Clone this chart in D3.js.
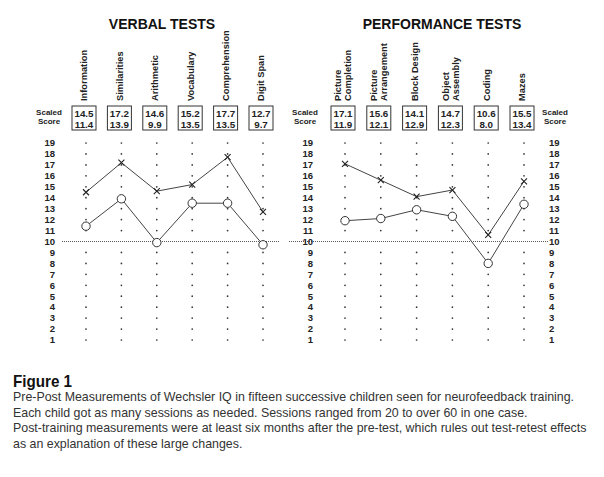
<!DOCTYPE html>
<html><head><meta charset="utf-8">
<script src="https://cdn.jsdelivr.net/npm/d3@7"></script>
<style>
body{margin:0;background:#fff;}
svg{display:block;font-family:"Liberation Sans",Arial,sans-serif;}
</style></head>
<body>
<svg id="c" width="604" height="477"></svg>
<script>
const verbalTests = [["Information"],["Similarities"],["Arithmetic"],["Vocabulary"],["Comprehension"],["Digit Span"]];
const verbalPost = [14.5, 17.2, 14.6, 15.2, 17.7, 12.7];
const verbalPre  = [11.4, 13.9, 9.9, 13.5, 13.5, 9.7];
const perfTests = [["Picture","Completion"],["Picture","Arrangement"],["Block Design"],["Object","Assembly"],["Coding"],["Mazes"]];
const perfPost = [17.1, 15.6, 14.1, 14.7, 10.6, 15.5];
const perfPre  = [11.9, 12.1, 12.9, 12.3, 8.0, 13.4];
const yTicks = d3.range(1, 20);
const captionTitle = "Figure 1";
const captionLines = [
 "Pre-Post Measurements of Wechsler IQ in fifteen successive children seen for neurofeedback training.",
 "Each child got as many sessions as needed. Sessions ranged from 20 to over 60 in one case.",
 "Post-training measurements were at least six months after the pre-test, which rules out test-retest effects",
 "as an explanation of these large changes."
];

const svg = d3.select("#c");
const ink = "#222";
const y = d3.scaleLinear().domain([1, 19]).range([340, 143]);

function tickCol(x, anchor){
  svg.append("g").selectAll("text").data(yTicks).join("text")
    .attr("x", x).attr("y", d => y(d)).attr("dy", "0.35em")
    .attr("text-anchor", anchor).attr("font-size", 9.5).attr("font-weight", "bold")
    .attr("fill", ink).text(d => d);
}
function scaledScore(x){
  const g = svg.append("g").attr("font-size", 8).attr("font-weight", "bold").attr("fill", ink).attr("text-anchor", "middle");
  g.append("text").attr("x", x).attr("y", 115).text("Scaled");
  g.append("text").attr("x", x).attr("y", 124).text("Score");
}

function panel(title, titleX, tests, post, pre, range){
  const keys = tests.map(t => t.join(" "));
  const x = d3.scalePoint().domain(keys).range(range);
  svg.append("text").attr("x", titleX).attr("y", 29).attr("text-anchor", "middle")
    .attr("font-size", 14).attr("font-weight", "bold").attr("fill", "#111").text(title);
  tests.forEach((t, i) => {
    const cx = x(keys[i]);
    const n = t.length;
    t.forEach((line, j) => {
      const lx = cx - 2 + (j - (n - 1) / 2) * 10 + 3.4;
      svg.append("text").attr("transform", `translate(${lx},101) rotate(-90)`)
        .attr("font-size", 9.3).attr("font-weight", "bold").attr("fill", ink).text(line);
    });
    const bx = cx - 2;
    svg.append("rect").attr("x", bx - 12).attr("y", 106).attr("width", 24).attr("height", 24)
      .attr("fill", "none").attr("stroke", "#333").attr("stroke-width", 1);
    svg.append("text").attr("x", bx).attr("y", 117).attr("text-anchor", "middle")
      .attr("font-size", 9.8).attr("font-weight", "bold").attr("fill", ink).text(post[i].toFixed(1));
    svg.append("text").attr("x", bx).attr("y", 127.5).attr("text-anchor", "middle")
      .attr("font-size", 9.8).attr("font-weight", "bold").attr("fill", ink).text(pre[i].toFixed(1));
    svg.append("g").selectAll("circle").data(yTicks.filter(v => v !== 10)).join("circle")
      .attr("cx", cx).attr("cy", d => y(d)).attr("r", 0.85).attr("fill", "#333");
  });
  const line = d3.line().x((d, i) => x(keys[i])).y(d => y(d));
  svg.append("path").attr("d", line(post)).attr("fill", "none").attr("stroke", "#444").attr("stroke-width", 1);
  svg.append("path").attr("d", line(pre)).attr("fill", "none").attr("stroke", "#444").attr("stroke-width", 1);
  const s = 3;
  svg.append("g").selectAll("path").data(post).join("path")
    .attr("d", (d, i) => { const px = x(keys[i]), py = y(d);
      return `M${px-s},${py-s}L${px+s},${py+s}M${px+s},${py-s}L${px-s},${py+s}`; })
    .attr("stroke", "#222").attr("stroke-width", 1.1);
  svg.append("g").selectAll("circle").data(pre).join("circle")
    .attr("cx", (d, i) => x(keys[i])).attr("cy", d => y(d)).attr("r", 4.2)
    .attr("fill", "#fff").attr("stroke", "#333").attr("stroke-width", 1);
}

svg.append("line").attr("x1", 62).attr("x2", 280).attr("y1", y(10)).attr("y2", y(10))
  .attr("stroke", "#555").attr("stroke-width", 1).attr("stroke-dasharray", "1,1");
svg.append("line").attr("x1", 289).attr("x2", 548).attr("y1", y(10)).attr("y2", y(10))
  .attr("stroke", "#555").attr("stroke-width", 1).attr("stroke-dasharray", "1,1");

tickCol(55, "end");
tickCol(313, "end");
tickCol(549, "start");
scaledScore(49);
scaledScore(305);
scaledScore(555);

panel("VERBAL TESTS", 162, verbalTests, verbalPost, verbalPre, [86, 263]);
panel("PERFORMANCE TESTS", 442, perfTests, perfPost, perfPre, [345, 524]);

svg.append("text").attr("x", 13).attr("y", 387).attr("font-size", 17).attr("font-weight", "bold")
  .attr("fill", "#111").attr("textLength", 59).attr("lengthAdjust", "spacingAndGlyphs").text(captionTitle);
svg.append("g").selectAll("text").data(captionLines).join("text")
  .attr("x", 13).attr("y", (d, i) => 401 + i * 15.7).attr("font-size", 12.4).attr("fill", "#333").text(d => d);
</script>
</body></html>
